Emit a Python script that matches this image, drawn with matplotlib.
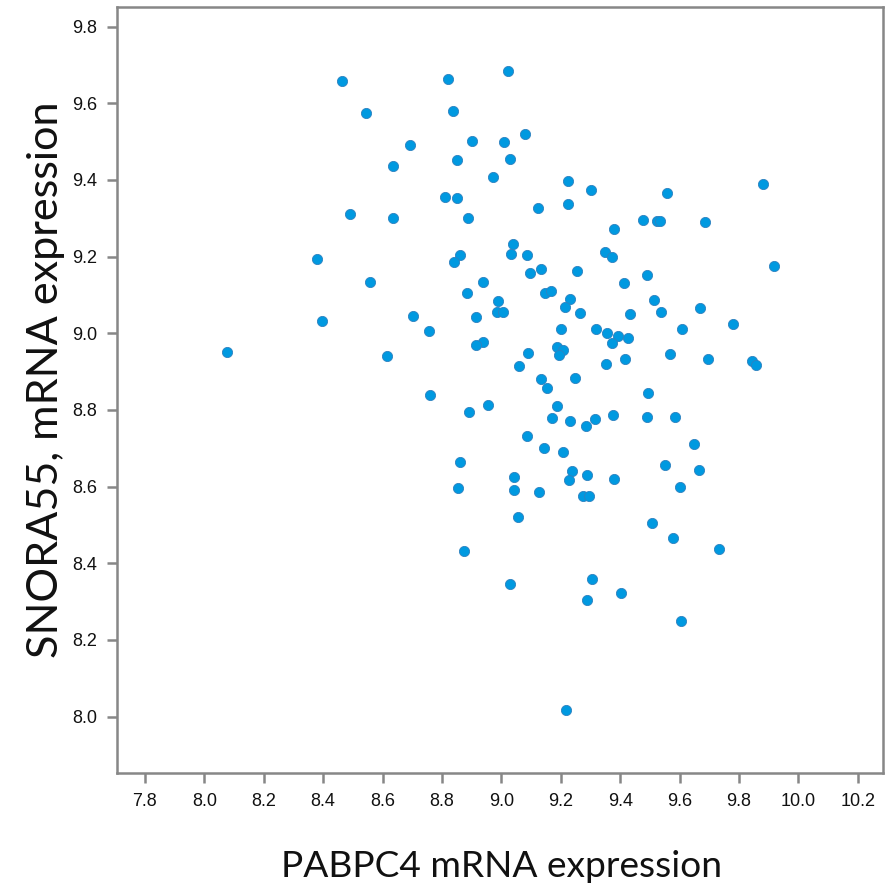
import matplotlib
matplotlib.use("Agg")
import matplotlib.pyplot as plt
from matplotlib.ticker import FixedLocator

# PABPC4 mRNA expression (x) and SNORA55 mRNA expression (y)
pabpc4 = [
    8.462, 8.821, 8.544, 8.838, 8.692, 8.900, 8.634, 8.850, 8.971, 8.811,
    8.850, 8.490, 8.636, 8.888, 8.381, 8.862, 8.840, 8.559, 8.938, 8.885,
    9.021, 9.079, 9.010, 9.028, 9.223, 9.303, 9.558, 9.881, 9.122, 9.224,
    9.378, 9.477, 9.524, 9.533, 9.687, 9.038, 9.032, 9.088, 9.096, 9.132,
    9.256, 9.348, 9.372, 9.413, 9.491, 9.919, 9.147, 9.167, 8.990, 8.984,
    9.004, 9.230, 9.215, 9.265, 9.513, 9.538, 9.432, 9.668, 9.780, 9.608,
    9.202, 9.320, 9.355, 9.394, 9.425, 9.372, 8.937, 9.090, 9.059, 9.188,
    9.208, 9.193, 9.352, 9.416, 9.568, 9.696, 9.843, 9.858, 9.134, 9.154,
    9.248, 9.494, 8.954, 9.188, 9.169, 9.232, 9.286, 9.315, 9.377, 9.491,
    9.586, 9.088, 9.145, 9.209, 9.648, 9.551, 9.664, 9.239, 9.228, 9.287,
    9.380, 9.042, 9.042, 9.127, 9.275, 9.295, 9.601, 9.055, 9.506, 8.397,
    8.702, 8.757, 8.914, 8.075, 8.616, 8.914, 8.759, 8.891, 8.862, 8.854,
    9.579, 8.874, 9.733, 9.029, 9.305, 9.403, 9.288, 9.606, 9.218,
]
snora55 = [
    9.658, 9.664, 9.574, 9.579, 9.492, 9.501, 9.437, 9.453, 9.407, 9.355,
    9.352, 9.312, 9.300, 9.300, 9.195, 9.203, 9.185, 9.135, 9.135, 9.104,
    9.684, 9.520, 9.499, 9.454, 9.398, 9.375, 9.365, 9.389, 9.328, 9.337,
    9.272, 9.296, 9.294, 9.294, 9.290, 9.232, 9.207, 9.203, 9.157, 9.168,
    9.162, 9.211, 9.199, 9.132, 9.151, 9.176, 9.104, 9.110, 9.083, 9.055,
    9.055, 9.089, 9.068, 9.053, 9.087, 9.056, 9.050, 9.066, 9.025, 9.010,
    9.011, 9.011, 9.002, 8.993, 8.989, 8.974, 8.977, 8.948, 8.916, 8.964,
    8.957, 8.943, 8.921, 8.933, 8.945, 8.934, 8.929, 8.918, 8.881, 8.858,
    8.883, 8.844, 8.812, 8.810, 8.780, 8.770, 8.759, 8.777, 8.788, 8.782,
    8.781, 8.733, 8.701, 8.691, 8.711, 8.656, 8.644, 8.640, 8.618, 8.631,
    8.621, 8.626, 8.591, 8.586, 8.576, 8.576, 8.599, 8.520, 8.506, 9.032,
    9.044, 9.007, 9.043, 8.950, 8.942, 8.969, 8.840, 8.796, 8.663, 8.596,
    8.467, 8.431, 8.437, 8.346, 8.358, 8.323, 8.303, 8.249, 8.018,
]

x_ticks = [7.8, 8.0, 8.2, 8.4, 8.6, 8.8, 9.0, 9.2, 9.4, 9.6, 9.8, 10.0, 10.2]
x_tick_labels = ["7.8", "8.0", "8.2", "8.4", "8.6", "8.8", "9.0", "9.2", "9.4",
                 "9.6", "9.8", "10.0", "10.2"]
y_ticks = [8.0, 8.2, 8.4, 8.6, 8.8, 9.0, 9.2, 9.4, 9.6, 9.8]
y_tick_labels = ["8.0", "8.2", "8.4", "8.6", "8.8", "9.0", "9.2", "9.4", "9.6", "9.8"]
x_label = "PABPC4 mRNA expression"
y_label = "SNORA55, mRNA expression"

W, H = 885, 886
fig = plt.figure(figsize=(W / 100, H / 100), dpi=100)
fig.patch.set_facecolor("white")
ax = fig.add_axes([117.3 / W, 1 - 773 / H, (883 - 117.3) / W, (773 - 6.7) / H])

ax.scatter(pabpc4, snora55, s=54, facecolor="#0099E0", edgecolor="#2F82C0",
           linewidth=0.6, zorder=3)

ax.set_xlim(7.707, 10.285)
ax.set_ylim(7.853, 9.852)
ax.xaxis.set_major_locator(FixedLocator(x_ticks))
ax.yaxis.set_major_locator(FixedLocator(y_ticks))
ax.set_xticklabels(x_tick_labels)
ax.set_yticklabels(y_tick_labels)

spine_col = "#878787"
for s in ax.spines.values():
    s.set_color(spine_col)
    s.set_linewidth(1.8)
ax.tick_params(axis="both", which="major", direction="out", length=7.2, width=1.8,
               color=spine_col, labelsize=13, labelcolor="#111111", pad=7.5)
for lab in ax.get_xticklabels() + ax.get_yticklabels():
    lab.set_fontfamily("Liberation Sans")

tx = fig.text(502 / W, 1 - 877 / H, x_label, ha="center", va="baseline",
              fontsize=26, family="Lato", color="#111111")
ty = fig.text(58 / W, 1 - 380 / H, y_label, ha="center", va="baseline",
              rotation=90, rotation_mode="anchor",
              fontsize=30, family="Lato", color="#111111")

# scale label font sizes so their lengths match the reference
r = fig.canvas.get_renderer()
bx = tx.get_window_extent(r)
tx.set_fontsize(26 * 440.0 / bx.width)
by = ty.get_window_extent(r)
ty.set_fontsize(30 * 555.0 / by.height)

fig.savefig("out.png", dpi=100)
